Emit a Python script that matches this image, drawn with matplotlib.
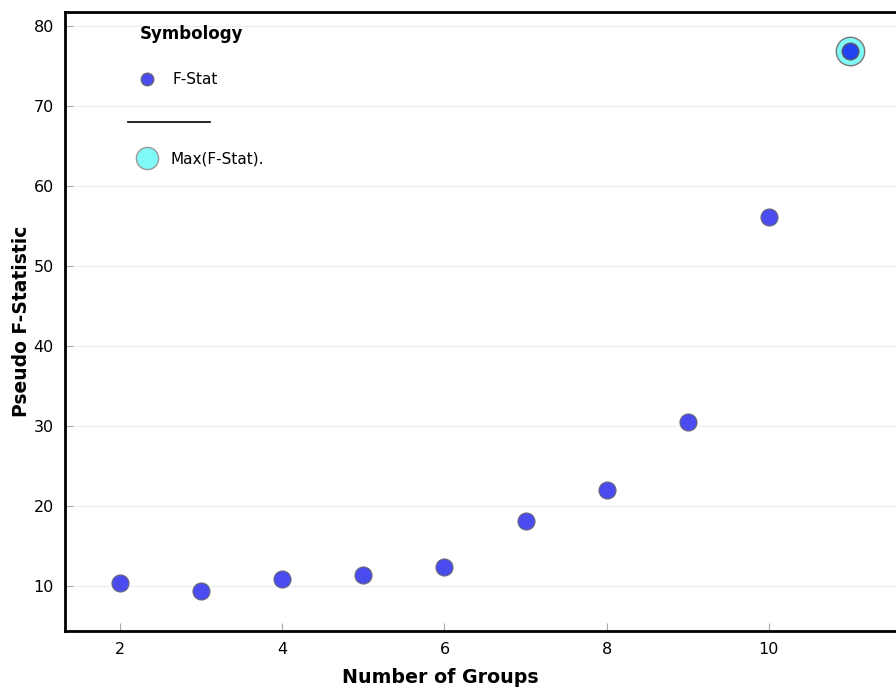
import numpy as np
import matplotlib.pyplot as plt
from matplotlib.lines import Line2D

n_grupos = [2, 3, 4, 5, 6, 7, 8, 9, 10, 11]
f_stat = [10.4, 9.4, 10.9, 11.35, 12.45, 18.1, 22.0, 30.5, 56.1, 76.85]

W, H = 896, 687
fig = plt.figure(figsize=(W / 100, H / 100), dpi=100)

# ejes: borde derecho fuera de la figura (recortado como en la original)
izq, der, arriba, abajo = 65, 905, 12, 631
ax = fig.add_axes([izq / W, 1 - abajo / H, (der - izq) / W, (abajo - arriba) / H])

ax.scatter(n_grupos, f_stat, s=150, color='#4a4cf0', edgecolor='#666677', linewidth=0.8, zorder=4)
imax = int(np.argmax(f_stat))
ax.scatter(n_grupos[imax], f_stat[imax], s=420, color='#7ff8f8', edgecolor='#777777', linewidth=1.0, zorder=3)
ax.scatter(n_grupos[imax], f_stat[imax], s=130, color='#1f44f0', edgecolor='#555566', linewidth=0.6, zorder=5)

ax.set_xlim(1.32, 11.68)
ax.set_ylim(4.4, 81.75)
ax.set_xticks([2, 4, 6, 8, 10])
ax.set_yticks([10, 20, 30, 40, 50, 60, 70, 80])
ax.yaxis.grid(True, color='#ececec', linewidth=0.8)
ax.set_axisbelow(True)
ax.tick_params(direction='in', color='#aaaaaa', length=6, labelsize=11.5, pad=8)
for s in ax.spines.values():
    s.set_linewidth(2)
ax.spines['right'].set_visible(False)

ax.set_xlabel('Number of Groups', fontsize=13.7, fontweight='bold')
ax.xaxis.set_label_coords((440 - izq) / (der - izq), -0.06)
ax.set_ylabel('Pseudo F-Statistic', fontsize=13.5, fontweight='bold', labelpad=2)

# leyenda manual "Symbology"
def fx(px): return px / W
def fy(py): return 1 - py / H

fig.text(fx(140), fy(34), 'Symbology', fontsize=12, fontweight='bold', va='center')
fig.lines.append(Line2D([fx(147)], [fy(79)], marker='o', markersize=9, color='#4a4cf0',
                        markeredgecolor='#666677', transform=fig.transFigure))
fig.text(fx(172), fy(80), 'F-Stat', fontsize=11, va='center')
fig.lines.append(Line2D([fx(128), fx(210)], [fy(122), fy(122)], color='black', linewidth=1.2,
                        transform=fig.transFigure))
fig.lines.append(Line2D([fx(147)], [fy(158)], marker='o', markersize=16, color='#7ff8f8',
                        markeredgecolor='#999999', transform=fig.transFigure))
fig.text(fx(170), fy(159), 'Max(F-Stat).', fontsize=11, va='center')

fig.savefig('out.png', dpi=100)
